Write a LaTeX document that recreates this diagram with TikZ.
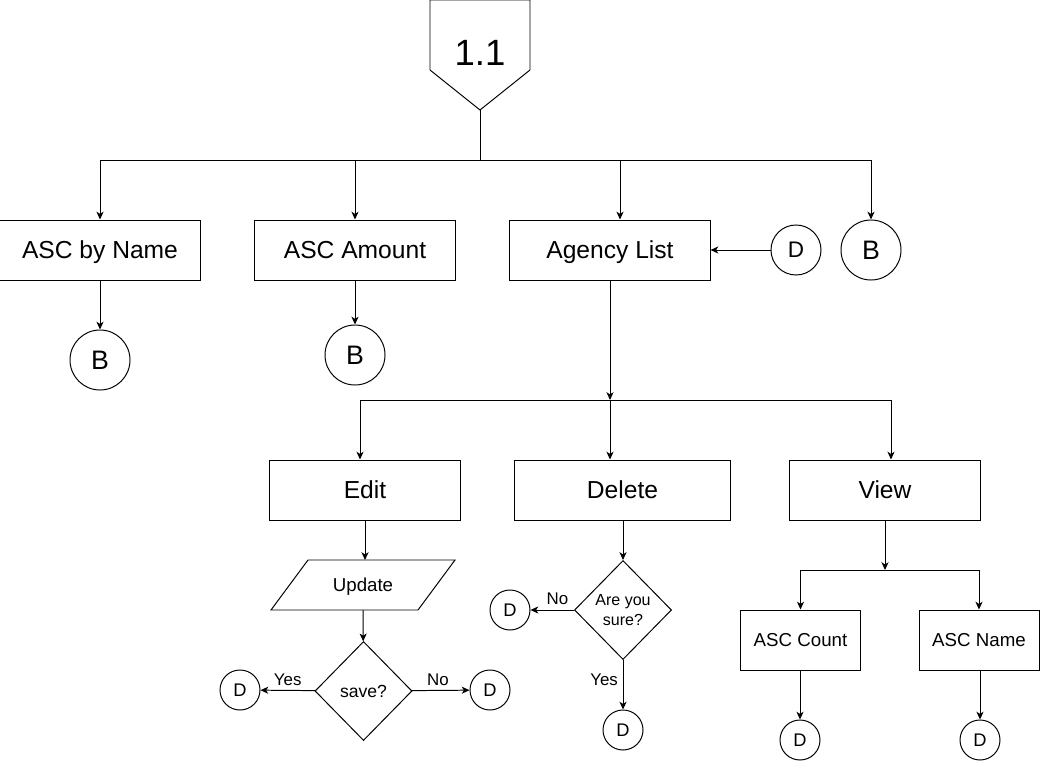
\documentclass[tikz,border=0pt]{standalone}
\usepackage{fontspec}
\setmainfont{Liberation Sans}
\usetikzlibrary{shapes.geometric,arrows.meta}
\begin{document}
\begin{tikzpicture}[x=0.025cm,y=-0.025cm,line width=0.7pt,
  box/.style={draw,rectangle,minimum height=1.5cm,inner sep=0pt},
  bigtxt/.style={font=\fontsize{17.5}{20}\selectfont,text height=12.5pt,text depth=0pt},
  midtxt/.style={font=\fontsize{13.3}{16}\selectfont,text height=9.5pt,text depth=0pt},
  conn/.style={draw,circle,inner sep=0pt,minimum size=1cm,font=\fontsize{13}{15}\selectfont},
  bigconn/.style={draw,circle,inner sep=0pt,minimum size=1.5cm,font=\fontsize{19}{22}\selectfont},
  dec/.style={draw,diamond,minimum width=2.425cm,minimum height=2.475cm,inner sep=0pt,align=center},
  lbl/.style={font=\fontsize{12}{14}\selectfont},
  arr/.style={-{Stealth[length=5.5pt,width=5pt,inset=1.5pt]}}]
 \useasboundingbox (0,0) rectangle (1040,762);
 \draw (430,0) -- (530,0) -- (530,70) -- (480,110) -- (430,70) -- cycle;
 \node[font=\fontsize{26}{30}\selectfont] (ref) at (480,53) {1.1};
 \coordinate (tip) at (480,110);
 \node[box,bigtxt,minimum width=5cm] (byname) at (100,250) {ASC by Name};
 \node[box,bigtxt,minimum width=5cm] (amount) at (355,250) {ASC Amount};
 \node[box,bigtxt,minimum width=5cm] (agency) at (610,250) {Agency List};
 \node[conn,minimum size=1.25cm,font=\fontsize{16}{18}\selectfont] (dA) at (796,250) {D};
 \node[bigconn] (bR) at (871,250) {B};
 \node[bigconn] (b1) at (100,360) {B};
 \node[bigconn] (b2) at (355,355) {B};
 \draw[arr] (tip) -- ++(0,50) -| (byname);
 \draw[arr] (tip) -- ++(0,50) -| (amount);
 \draw[arr] (tip) -- ++(0,50) -| ([xshift=0.25cm]agency.north);
 \draw[arr] (tip) -- ++(0,50) -| (bR);
 \draw[arr] (dA) -- (agency);
 \draw[arr] (byname) -- (b1);
 \draw[arr] (amount) -- (b2);
 \node[box,bigtxt,minimum width=4.75cm] (edit) at (365,490) {Edit};
 \node[box,bigtxt,minimum width=5.375cm] (delete) at (622.5,490) {Delete};
 \node[box,bigtxt,minimum width=4.75cm] (view) at (885,490) {View};
 \coordinate (split) at (610,400);
 \draw[arr] (agency) -- (split);
 \draw[arr] (split) -| ([xshift=-0.125cm]edit.north);
 \draw[arr] (split) -- (split |- delete.north);
 \draw[arr] (split) -| ([xshift=0.15cm]view.north);
 \draw (308,560) -- (455,560) -- (418,610) -- (271,610) -- cycle;
 \node[midtxt] (update) at (363,585) {Update};
 \coordinate (updtop) at (365,560);
 \coordinate (updbot) at (363,610);
 \node[dec,font=\fontsize{12.5}{15}\selectfont] (save) at (363.5,691) {save?};
 \node[conn] (dYes) at (240,690) {D};
 \node[conn] (dNo) at (490,690) {D};
 \draw[arr] (edit.south -| updtop) -- (updtop);
 \draw[arr] (updbot) -- (save);
 \draw[arr] (save) -- (dYes) node[lbl,pos=0.5,above] {Yes};
 \draw[arr] (save) -- (dNo) node[lbl,pos=0.45,above] {No};
 \node[dec,font=\fontsize{11.4}{14}\selectfont] (sure) at (623,610) {Are you\\sure?};
 \node[conn] (dSureNo) at (510,610) {D};
 \node[conn] (dSureYes) at (623,730) {D};
 \draw[arr] (delete.south -| sure) -- (sure);
 \draw[arr] (sure) -- (dSureNo) node[lbl,pos=0.38,above] {No};
 \draw[arr] (sure) -- (dSureYes) node[lbl,pos=0.4,left] {Yes};
 \coordinate (vsplit) at (885,570);
 \node[box,midtxt,minimum width=3cm] (count) at (800.5,640) {ASC Count};
 \node[box,midtxt,minimum width=3cm] (name) at (979,640) {ASC Name};
 \node[conn] (dCount) at (800,740) {D};
 \node[conn] (dName) at (980,740) {D};
 \draw[arr] (view) -- (vsplit);
 \draw[arr] (vsplit) -| (count);
 \draw[arr] (vsplit) -| (name);
 \draw[arr] (count.south -| dCount) -- (dCount);
 \draw[arr] (name.south -| dName) -- (dName);
\end{tikzpicture}
\end{document}
